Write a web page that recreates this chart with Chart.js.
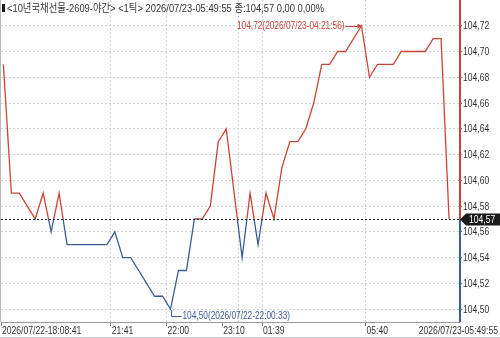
<!DOCTYPE html>
<html>
<head>
<meta charset="utf-8">
<script src="https://cdn.jsdelivr.net/npm/chart.js@4/dist/chart.umd.min.js"></script>
<style>
  html, body { margin: 0; padding: 0; background: #fff; }
</style>
</head>
<body>
<canvas id="chart" width="500" height="338"></canvas>
<script>
const titleText = "<10년국채선물-2609-야간> <1틱> 2026/07/23-05:49:55 종:104,57 0,00 0,00%";

// tick-by-tick closing prices (1 tick per point)
const prices = [
  104.69, 104.59, 104.59, 104.58, 104.57, 104.59, 104.56, 104.59, 104.55, 104.55,
  104.55, 104.55, 104.55, 104.55, 104.56, 104.54, 104.54, 104.53, 104.52, 104.51,
  104.51, 104.50, 104.53, 104.53, 104.57, 104.57, 104.58, 104.63, 104.64, 104.59,
  104.54, 104.59, 104.55, 104.59, 104.57, 104.61, 104.63, 104.63, 104.64, 104.66,
  104.69, 104.69, 104.70, 104.70, 104.71, 104.72, 104.68, 104.69, 104.69, 104.69,
  104.70, 104.70, 104.70, 104.70, 104.71, 104.71, 104.57
];

const xTickValues = [-0.3, 13.5, 20.5, 27.5, 29.5, 32.5, 45.5];
const xTickLabels = ["2026/07/22-18:08:41", "21:41", "22:00", "23:10", "", "01:39", "05:40"];
const lastTimeLabel = "2026/07/23-05:49:55";
const yTickValues = [104.50, 104.52, 104.54, 104.56, 104.58, 104.60, 104.62, 104.64, 104.66, 104.68, 104.70, 104.72];

const maxNote = "104,72(2026/07/23-04:21:56)";
const minNote = "104,50(2026/07/22-22:00:33)";

const RED = "#cc4436";
const BLUE = "#3d5c97";
const FONT = '"Liberation Sans", "Noto Sans CJK KR", sans-serif';
const NARROW = 0.78;

const lastPrice = prices[prices.length - 1];
const maxIdx = prices.indexOf(Math.max(...prices));
const minIdx = prices.indexOf(Math.min(...prices));
const fmt = v => v.toFixed(2).replace(".", ",");

function splitColor(context) {
  const chart = context.chart;
  const area = chart.chartArea;
  if (!area) return RED;
  const yp = chart.scales.y.getPixelForValue(lastPrice);
  const stop = Math.min(1, Math.max(0, (yp - area.top) / (area.bottom - area.top)));
  const g = chart.ctx.createLinearGradient(0, area.top, 0, area.bottom);
  g.addColorStop(0, RED);
  g.addColorStop(stop, RED);
  g.addColorStop(stop, BLUE);
  g.addColorStop(1, BLUE);
  return g;
}

// the original uses a condensed bitmap font, squeeze text horizontally
function narrowText(ctx, text, x, y, align, sx) {
  ctx.save();
  ctx.translate(x, y);
  ctx.scale(sx || NARROW, 1);
  ctx.textAlign = align;
  ctx.fillText(text, 0, 0);
  ctx.restore();
}

const overlay = {
  id: "overlay",
  afterDatasetsDraw(chart) {
    const { ctx, chartArea: a, scales } = chart;
    const meta = chart.getDatasetMeta(0);
    const yp = Math.round(scales.y.getPixelForValue(lastPrice)) + 0.5;

    ctx.save();
    // last price dashed line
    ctx.strokeStyle = "#222";
    ctx.lineWidth = 1;
    ctx.setLineDash([2, 2]);
    ctx.beginPath();
    ctx.moveTo(a.left, yp);
    ctx.lineTo(a.right, yp);
    ctx.stroke();
    ctx.setLineDash([]);

    // right axis, red above / blue below
    ctx.lineWidth = 2;
    ctx.strokeStyle = RED;
    ctx.beginPath();
    ctx.moveTo(a.right + 1, 0);
    ctx.lineTo(a.right + 1, yp);
    ctx.stroke();
    ctx.strokeStyle = BLUE;
    ctx.beginPath();
    ctx.moveTo(a.right + 1, yp);
    ctx.lineTo(a.right + 1, a.bottom);
    ctx.stroke();

    // left frame
    ctx.lineWidth = 1;
    ctx.strokeStyle = "#b8bcbc";
    ctx.beginPath();
    ctx.moveTo(0.5, 0);
    ctx.lineTo(0.5, a.bottom);
    ctx.stroke();

    ctx.font = "11px " + FONT;
    ctx.textBaseline = "middle";
    ctx.fillStyle = "#333";

    // y tick labels
    scales.y.ticks.forEach(t => {
      narrowText(ctx, fmt(t.value), a.right + 4, scales.y.getPixelForValue(t.value) + 0.5, "left");
    });

    // x tick labels
    scales.x.ticks.forEach((t, i) => {
      if (!xTickLabels[i]) return;
      narrowText(ctx, xTickLabels[i], scales.x.getPixelForValue(t.value) + 1, a.bottom + 9, "left");
    });
    narrowText(ctx, lastTimeLabel, chart.width - 2, a.bottom + 9, "right");

    // last price tag
    const bx = a.right + 1;
    ctx.fillStyle = "#1a1a1a";
    ctx.beginPath();
    ctx.moveTo(bx, yp);
    ctx.lineTo(bx + 6, yp - 6);
    ctx.lineTo(chart.width, yp - 6);
    ctx.lineTo(chart.width, yp + 6);
    ctx.lineTo(bx + 6, yp + 6);
    ctx.closePath();
    ctx.fill();
    ctx.fillStyle = "#fff";
    narrowText(ctx, fmt(lastPrice), bx + 9, yp + 0.5, "left");

    // max annotation
    const pMax = meta.data[maxIdx];
    ctx.font = "10px " + FONT;
    ctx.fillStyle = RED;
    ctx.strokeStyle = RED;
    narrowText(ctx, maxNote, pMax.x - 17, pMax.y, "right", 0.83);
    ctx.beginPath();
    ctx.moveTo(pMax.x - 16, Math.round(pMax.y) + 0.5);
    ctx.lineTo(pMax.x - 1, Math.round(pMax.y) + 0.5);
    ctx.stroke();
    ctx.beginPath();
    ctx.moveTo(pMax.x, pMax.y);
    ctx.lineTo(pMax.x - 4, pMax.y - 2);
    ctx.lineTo(pMax.x - 4, pMax.y + 3);
    ctx.closePath();
    ctx.fill();

    // min annotation
    const pMin = meta.data[minIdx];
    const ly = Math.round(pMin.y) + 7.5;
    const lx = Math.round(pMin.x) + 0.5;
    ctx.fillStyle = BLUE;
    ctx.strokeStyle = BLUE;
    ctx.beginPath();
    ctx.moveTo(lx, pMin.y + 1);
    ctx.lineTo(lx, ly);
    ctx.lineTo(lx + 10, ly);
    ctx.stroke();
    narrowText(ctx, minNote, lx + 11, ly, "left", 0.83);

    // title
    ctx.fillStyle = "#1a1a1a";
    ctx.fillRect(2, 4, 3, 8);
    ctx.fillStyle = "#333";
    ctx.font = "11px " + FONT;
    narrowText(ctx, titleText, 7, 9, "left", 0.85);

    // bottom frame
    ctx.strokeStyle = "#c8cccc";
    ctx.beginPath();
    ctx.moveTo(0, chart.height - 0.5);
    ctx.lineTo(chart.width, chart.height - 0.5);
    ctx.stroke();
    ctx.restore();
  }
};

new Chart(document.getElementById("chart"), {
  type: "line",
  data: {
    datasets: [{
      data: prices.map((v, i) => ({ x: i, y: v })),
      borderColor: splitColor,
      borderWidth: 1.3,
      pointRadius: 0,
      tension: 0
    }]
  },
  options: {
    responsive: false,
    animation: false,
    devicePixelRatio: 1,
    layout: { padding: { left: 1, top: 0, right: 0, bottom: 0 } },
    plugins: { legend: { display: false }, tooltip: { enabled: false } },
    scales: {
      x: {
        type: "linear",
        min: -0.3,
        max: 57.25,
        afterBuildTicks: s => { s.ticks = xTickValues.map(v => ({ value: v })); },
        afterFit: s => { s.height = 16; s.paddingLeft = 0; s.paddingRight = 0; },
        ticks: { display: false },
        grid: {
          color: c => (c.index === 0 || xTickLabels[c.index] === "23:10") ? "rgba(0,0,0,0)" : "#d4d4d4",
          tickColor: c => xTickLabels[c.index] === "" ? "rgba(0,0,0,0)" : "#777",
          tickLength: 4
        },
        border: { display: true, color: "#999", dash: [2, 2] }
      },
      y: {
        position: "right",
        min: 104.49,
        max: 104.74,
        afterBuildTicks: s => { s.ticks = yTickValues.map(v => ({ value: v })); },
        afterFit: s => { s.width = 41; s.paddingTop = 0; s.paddingBottom = 0; },
        ticks: { display: false },
        grid: { color: "#d4d4d4", tickColor: "#777", tickLength: 3 },
        border: { display: false, dash: [2, 2] }
      }
    }
  },
  plugins: [overlay]
});
</script>
</body>
</html>
